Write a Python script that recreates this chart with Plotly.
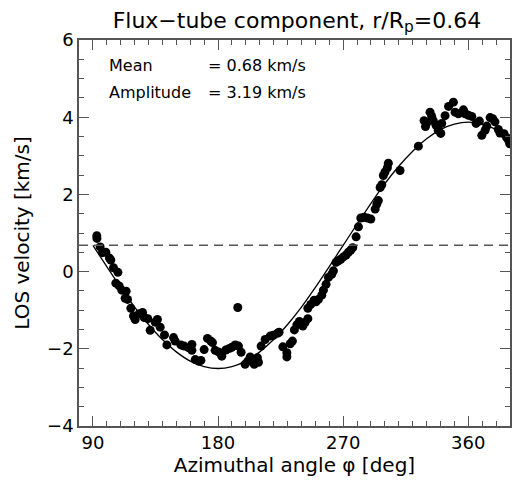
import plotly.graph_objects as go

# observed LOS velocities vs azimuth
phi = [92.8, 92.9, 95.2, 96.9, 99.3, 101.9, 102.9, 104.8, 106.5, 108.0,
       108.9, 110.8, 113.2, 113.9, 114.9, 117.3, 119.2, 120.4, 123.3, 125.7,
       126.9, 129.5, 131.2, 134.8, 136.4, 138.4, 141.5, 143.2, 148.0, 149.2,
       153.3, 155.6, 158.7, 161.2, 161.2, 163.6, 166.0, 167.7, 170.0, 172.4,
       174.8, 176.0, 177.9, 180.3, 182.7, 185.6, 188.2, 189.9, 192.3, 194.2,
       194.7, 196.6, 199.5, 201.4, 203.1, 206.0, 208.3, 209.1, 211.0, 213.9,
       217.5, 219.8, 222.7, 223.9, 226.6, 229.5, 229.5, 231.9, 233.5, 234.9,
       236.7, 238.5, 241.0, 242.6, 244.6, 244.6, 246.7, 249.1, 250.5, 252.2,
       254.6, 255.8, 257.7, 259.4, 261.8, 263.0, 264.9, 266.6, 268.3, 270.2,
       272.1, 273.8, 275.5, 276.9, 279.3, 281.0, 282.7, 285.0, 287.4, 289.9,
       293.0, 294.2, 295.3, 296.6, 297.8, 298.9, 300.1, 301.8, 302.5, 310.9,
       324.1, 328.2, 329.2, 330.1, 332.5, 333.7, 334.8, 336.8, 338.4, 340.2,
       340.9, 343.3, 345.8, 349.3, 350.5, 352.9, 356.5, 357.7, 360.1, 362.5,
       365.6, 368.0, 369.7, 372.1, 373.3, 375.7, 377.6, 379.2, 381.6, 382.8,
       385.7, 387.6, 389.0, 389.8]
vlos = [0.93, 0.86, 0.64, 0.49, 0.50, 0.35, 0.30, 0.10, -0.30, -0.02,
        -0.37, -0.48, -0.69, -0.51, -0.72, -0.95, -1.15, -1.24, -1.09, -1.06,
        -1.19, -1.22, -1.52, -1.31, -1.24, -1.44, -1.64, -1.90, -1.71, -1.80,
        -1.90, -1.93, -1.97, -1.89, -2.04, -2.28, -2.32, -2.30, -2.02, -1.73,
        -1.80, -1.84, -2.04, -2.08, -2.19, -2.03, -1.99, -1.96, -1.90, -0.93,
        -1.93, -2.09, -2.40, -2.32, -2.21, -2.40, -2.23, -2.35, -1.93, -1.76,
        -1.67, -1.65, -1.60, -1.57, -1.95, -2.10, -2.21, -1.87, -1.80, -1.51,
        -1.38, -1.29, -1.41, -1.32, -1.22, -0.95, -0.85, -0.74, -0.78, -0.72,
        -0.61, -0.48, -0.33, -0.15, -0.07, 0.02, 0.24, 0.28, 0.32, 0.38,
        0.43, 0.50, 0.56, 0.62, 0.90, 1.16, 1.39, 1.41, 1.39, 1.36,
        1.62, 1.75, 1.84, 2.18, 2.25, 2.49, 2.58, 2.69, 2.81, 2.62,
        3.25, 3.91, 3.76, 3.85, 4.13, 4.02, 3.91, 3.79, 3.66, 3.58,
        3.84, 4.04, 4.28, 4.39, 4.13, 4.09, 4.19, 4.09, 4.05, 4.02,
        3.84, 3.90, 3.53, 3.66, 3.77, 3.99, 3.96, 3.88, 3.68, 3.59,
        3.57, 3.47, 3.40, 3.31]

# fitted curve, read every 10 deg
fit_phi = [90, 100, 110, 120, 130, 140, 150, 160, 170, 180, 190, 200, 210, 220, 230, 240,
           250, 260, 270, 280, 290, 300, 310, 320, 330, 340, 350, 360, 370, 380, 390]
fit_v = [0.68, 0.13, -0.41, -0.92, -1.37, -1.76, -2.08, -2.32, -2.46, -2.51, -2.46, -2.32,
         -2.08, -1.76, -1.37, -0.92, -0.41, 0.13, 0.68, 1.23, 1.77, 2.28, 2.73, 3.12,
         3.44, 3.68, 3.82, 3.87, 3.82, 3.68, 3.44]

mean_v = 0.68
amp_v = 3.19

font = "DejaVu Sans"
axcol = "#555555"

fig = go.Figure()
fig.add_trace(go.Scatter(x=fit_phi, y=fit_v, mode="lines",
                         line=dict(color="black", width=1.3, shape="spline"),
                         showlegend=False, hoverinfo="skip"))
fig.add_trace(go.Scatter(x=phi, y=vlos, mode="markers",
                         marker=dict(color="black", size=9),
                         showlegend=False))

fig.add_shape(type="line", xref="paper", x0=0, x1=1, yref="y", y0=mean_v, y1=mean_v,
              line=dict(color=axcol, width=1.5, dash="9px,6px"))

ann_font = dict(size=16, color="black", family=font)
fig.add_annotation(x=100, y=5.34, text="Mean", showarrow=False, xanchor="left", font=ann_font)
fig.add_annotation(x=100, y=4.65, text="Amplitude", showarrow=False, xanchor="left", font=ann_font)
fig.add_annotation(x=171, y=5.34, text=f"= {mean_v:.2f} km/s", showarrow=False, xanchor="left",
                   font=ann_font)
fig.add_annotation(x=171, y=4.65, text=f"= {amp_v:.2f} km/s", showarrow=False, xanchor="left",
                   font=ann_font)

fig.update_xaxes(
    range=[80, 390], tick0=0, dtick=90,
    showgrid=False, zeroline=False, showline=True, linecolor=axcol, linewidth=1.5, mirror="allticks",
    ticks="inside", ticklen=10, tickcolor=axcol, tickwidth=1.3,
    tickfont=dict(size=18, color="black", family=font),
    minor=dict(dtick=10, tick0=0, ticks="inside", ticklen=5, tickwidth=1.3, tickcolor=axcol),
    title=dict(text="Azimuthal angle φ [deg]", font=dict(size=20, color="black", family=font), standoff=6),
)
fig.update_yaxes(
    range=[-4, 6], tick0=0, dtick=2,
    showgrid=False, zeroline=False, showline=True, linecolor=axcol, linewidth=1.5, mirror="allticks",
    ticks="inside", ticklen=10, tickcolor=axcol, tickwidth=1.3,
    tickfont=dict(size=18, color="black", family=font),
    minor=dict(dtick=0.5, tick0=0, ticks="inside", ticklen=5, tickwidth=1.3, tickcolor=axcol),
    title=dict(text="LOS velocity [km/s]", font=dict(size=20, color="black", family=font), standoff=12),
)

# the page body adds an 8px offset, so the figure is sized to fit inside it
fig.update_layout(
    width=516, height=476,
    margin=dict(l=71, r=14, t=32, b=58, autoexpand=False),
    paper_bgcolor="white", plot_bgcolor="white",
    title=dict(text="Flux−tube component, r/R<sub>p</sub>=0.64", x=0.56, xanchor="center",
               yref="container", y=0.975, yanchor="middle",
               font=dict(size=22, color="black", family=font)),
)

fig.write_html("out.html")
